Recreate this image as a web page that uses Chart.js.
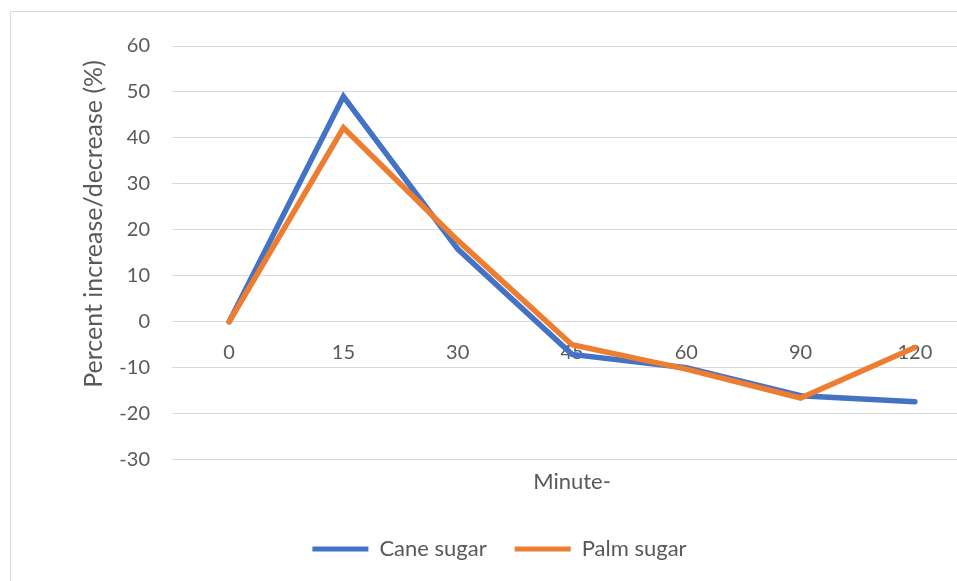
<!DOCTYPE html>
<html>
<head>
<meta charset="utf-8">
<script src="https://cdn.jsdelivr.net/npm/chart.js@4/dist/chart.umd.min.js"></script>
<style>
  html, body { margin: 0; padding: 0; background: #fff; overflow: hidden; }
  #frame { position: absolute; left: 10px; top: 11px; width: 1000px; height: 640px; border: 1px solid #d9d9d9; }
  #grafico { display: block; }
</style>
</head>
<body>
<div id="frame"><canvas id="grafico" width="1000" height="640"></canvas></div>
<script>
const minutos = ['0', '15', '30', '45', '60', '90', '120'];
const caneSugar = [0, 49, 15.8, -7.1, -10.0, -16.1, -17.4];
const palmSugar = [0, 42.2, 17.7, -5.0, -10.3, -16.6, -5.6];
const yMin = -30, yMax = 60, yStep = 10;

const cinza = '#595959';
const fonte = 'Lato';

const ctx = document.getElementById('grafico').getContext('2d');

let grafico = new Chart(ctx, {
  type: 'line',
  data: {
    labels: minutos,
    datasets: [
      {
        label: 'Cane sugar',
        data: caneSugar,
        borderColor: '#4472C4',
        backgroundColor: '#4472C4',
        borderWidth: 5.5,
        borderCapStyle: 'round',
        borderJoinStyle: 'miter',
        pointRadius: 0,
        tension: 0,
        order: 1
      },
      {
        label: 'Palm sugar',
        data: palmSugar,
        borderColor: '#ED7D31',
        backgroundColor: '#ED7D31',
        borderWidth: 5.5,
        borderCapStyle: 'round',
        borderJoinStyle: 'miter',
        pointRadius: 0,
        tension: 0,
        order: 0
      }
    ]
  },
  options: {
    responsive: false,
    animation: false,
    layout: { padding: { top: 29, right: 39, bottom: 82, left: 16 } },
    scales: {
      y: {
        min: yMin,
        max: yMax,
        ticks: { stepSize: yStep, padding: 22, color: cinza, font: { family: fonte, size: 20 } },
        grid: { color: '#d9d9d9', lineWidth: 1, drawTicks: false },
        border: { display: false },
        title: {
          display: true,
          text: '         Percent increase/decrease (%)',
          color: cinza,
          font: { family: fonte, size: 25 },
          padding: { top: 52, bottom: 0 }
        },
        afterFit: (scale) => { scale.width = 145; }
      },
      x: {
        position: { y: 0 },
        offset: true,
        ticks: { padding: 19, color: cinza, font: { family: fonte, size: 20 }, maxRotation: 0 },
        grid: { display: false, drawTicks: false },
        border: { display: false },
        title: {
          display: true,
          text: 'Minute-',
          color: cinza,
          font: { family: fonte, size: 22 },
          padding: { top: 85, bottom: 0 }
        }
      }
    },
    plugins: {
      legend: {
        display: true,
        position: 'bottom',
        title: { display: true, text: '', font: { size: 12 }, padding: { top: 36, bottom: 0 } },
        labels: {
          color: cinza,
          font: { family: fonte, size: 22 },
          boxWidth: 56,
          boxHeight: 5,
          padding: 28,
          sort: (a, b) => a.datasetIndex - b.datasetIndex,
          generateLabels: (chart) => chart.data.datasets.map((ds, i) => ({
            text: ds.label,
            fillStyle: ds.borderColor,
            strokeStyle: ds.borderColor,
            lineWidth: 0,
            fontColor: cinza,
            hidden: false,
            datasetIndex: i
          }))
        }
      },
      tooltip: { enabled: false },
      title: { display: false }
    }
  }
});
</script>
</body>
</html>
